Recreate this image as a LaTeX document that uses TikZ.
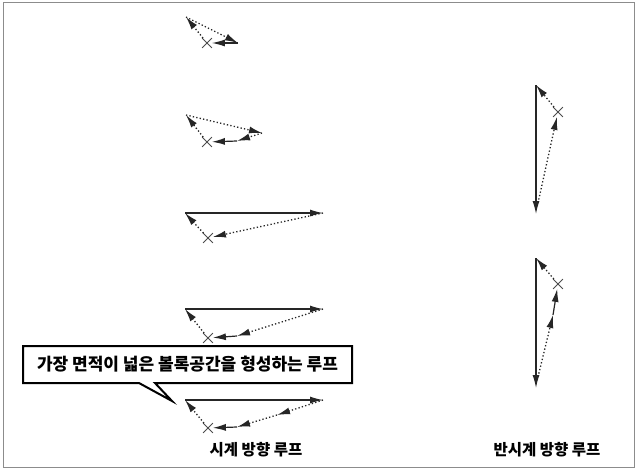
\documentclass[tikz,border=0pt]{standalone}
\usepackage{fontspec}
\newfontfamily\kr{Noto Sans CJK KR}
\usetikzlibrary{arrows.meta,shapes.misc}
\begin{document}
\begin{tikzpicture}[x=1pt,y=-1pt,
  solidln/.style={line width=1.2pt, black!85, -{Latex[length=13pt,width=7pt]}},
  dotln/.style={line width=1.3pt, black!85, dash pattern=on 1.3pt off 2.2pt, -{Latex[length=13pt,width=7pt]}},
  xmk/.style={draw=black!70, cross out, minimum size=9pt, inner sep=0pt, line width=0.8pt},
  lbl/.style={font=\kr\bfseries\fontsize{15.5}{18}\selectfont, inner sep=0pt}]
\useasboundingbox (0,0) rectangle (637,469);
\fill[white] (0,0) rectangle (637,469);
\draw[black!45, line width=1pt] (3,2) rectangle (634,467);

% ---- clockwise loop 1
\coordinate (a1p) at (186,17);
\coordinate (a1r) at (238,43);
\node[xmk] (a1x) at (207,43) {};
\draw[dotln] (a1p) -- (a1r);
\draw[solidln] (a1r) -- (a1x);
\draw[dotln] (a1x) -- (a1p);

% ---- clockwise loop 2
\coordinate (a2p) at (186,115);
\coordinate (a2r) at (262,133);
\coordinate (a2m) at (237,141);
\node[xmk] (a2x) at (207,142) {};
\draw[dotln] (a2p) -- (a2r);
\draw[dotln] (a2r) -- (a2m);
\draw[solidln] (a2m) -- (a2x);
\draw[dotln] (a2x) -- (a2p);

% ---- clockwise loop 3
\coordinate (a3p) at (185,213);
\coordinate (a3r) at (323,213);
\node[xmk] (a3x) at (208,238) {};
\draw[solidln] (a3p) -- (a3r);
\draw[dotln] (a3r) -- (a3x);
\draw[dotln] (a3x) -- (a3p);

% ---- clockwise loop 4
\coordinate (a4p) at (185,309);
\coordinate (a4r) at (323,309);
\coordinate (a4m) at (237,336);
\node[xmk] (a4x) at (208,338) {};
\draw[solidln] (a4p) -- (a4r);
\draw[dotln] (a4r) -- (a4m);
\draw[solidln] (a4m) -- (a4x);
\draw[dotln] (a4x) -- (a4p);

% ---- clockwise loop 5
\coordinate (a5p) at (185,400);
\coordinate (a5r) at (323,400);
\coordinate (a5q) at (277,415);
\coordinate (a5m) at (237,427);
\node[xmk] (a5x) at (208,428) {};
\draw[solidln] (a5p) -- (a5r);
\draw[dotln] (a5r) -- (a5q);
\draw[dotln] (a5q) -- (a5m);
\draw[solidln] (a5m) -- (a5x);
\draw[dotln] (a5x) -- (a5p);

% ---- counter-clockwise loop 1
\coordinate (b1p) at (536,85);
\coordinate (b1b) at (536,214);
\coordinate (b1s) at (538,203);
\node[xmk] (b1x) at (558,112) {};
\draw[solidln] (b1p) -- (b1b);
\draw[dotln] (b1s) -- (b1x);
\draw[dotln] (b1x) -- (b1p);

% ---- counter-clockwise loop 2
\coordinate (b2p) at (536,258);
\coordinate (b2b) at (536,388);
\coordinate (b2s) at (538,377);
\coordinate (b2m) at (553,315);
\node[xmk] (b2x) at (558,284) {};
\draw[solidln] (b2p) -- (b2b);
\draw[dotln] (b2s) -- (b2m);
\draw[solidln] (b2m) -- (b2x);
\draw[dotln] (b2x) -- (b2p);

% ---- callout
\draw[line width=2pt, fill=white, line join=miter]
  (23,346) -- (352,346) -- (352,383) -- (155,383) -- (172,401) -- (139,383) -- (23,383) -- cycle;
\node[lbl, font=\kr\bfseries\fontsize{17}{20}\selectfont] (callt) at (187.5,364.5) {가장 면적이 넓은 볼록공간을 형성하는 루프};

% ---- labels
\node[lbl] (lblcw) at (256,450) {시계 방향 루프};
\node[lbl] (lblccw) at (547,450) {반시계 방향 루프};
\end{tikzpicture}
\end{document}
